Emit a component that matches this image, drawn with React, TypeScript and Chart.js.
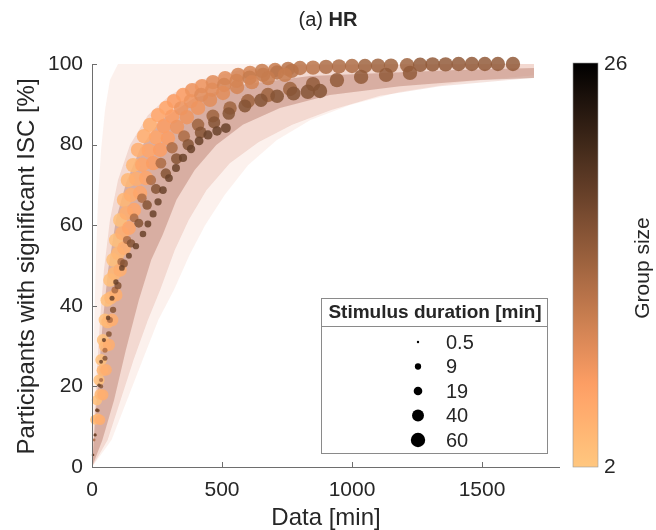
import React, { useEffect, useRef } from "react";
import { Chart, registerables } from "chart.js";

Chart.register(...registerables);

const FONT = "'Liberation Sans', Arial, Helvetica, sans-serif";
const TEXT = "#262626";
const AXIS = "#6e6e6e";

// ---- axes ----
const xRange = [0, 1800];
const yRange = [0, 100];
const xTicks = [0, 500, 1000, 1500];
const yTicks = [0, 20, 40, 60, 80, 100];
const groupRange = [2, 26];
const legendDurations = [0.5, 9, 19, 40, 60];

// ---- point series: [data (min), participants (%), group size, stimulus duration (min)] ----
type Pt = [number, number, number, number];

const seriesB: Pt[] = [
  [31, 11.7, 5, 30], [42, 17.9, 5, 34], [54, 24.1, 5, 38], [65, 30.3, 5, 42], [77, 36.5, 5, 46],
  [92, 42.7, 5, 50], [108, 48.9, 5, 52], [123, 54.3, 5, 54], [142, 59.3, 6, 56], [162, 63.8, 6, 58],
  [185, 68.0, 6, 60], [208, 71.7, 6, 60], [235, 75.4, 7, 60], [262, 78.7, 7, 60], [292, 81.6, 7, 60],
  [327, 84.4, 8, 60], [365, 86.8, 8, 60], [408, 89.1, 8, 60], [454, 91.1, 9, 60], [504, 92.8, 9, 60],
  [558, 94.3, 10, 60], [615, 95.5, 10, 60], [677, 96.5, 11, 60], [742, 97.3, 11, 60],
];

const seriesC2: Pt[] = [
  [22, 12, 4, 30], [31, 18, 4, 34], [40, 24, 4, 38], [50, 30, 4, 42], [60, 36, 4, 46],
  [72, 42, 4, 50], [86, 48, 4, 52], [100, 53, 4, 54], [116, 58, 5, 56], [132, 63, 5, 58],
  [150, 67.5, 5, 60], [170, 71.5, 5, 60], [193, 75, 6, 60], [218, 78.5, 6, 60], [246, 81.8, 6, 60],
  [276, 84.6, 7, 60], [308, 87, 7, 60], [343, 89, 8, 60], [380, 90.8, 8, 60], [420, 92.3, 9, 60],
  [462, 93.6, 9, 60], [508, 94.8, 10, 60], [556, 95.8, 10, 60], [606, 96.6, 11, 60], [658, 97.3, 11, 60],
  [712, 97.9, 12, 60], [768, 98.3, 12, 60],
];

const seriesC: Pt[] = [
  [12, 11.7, 3, 26], [19, 16.6, 3, 30], [27, 21.6, 3, 34], [35, 26.6, 3, 38], [42, 31.5, 3, 42],
  [50, 36.5, 3, 46], [58, 41.4, 3, 50], [69, 46.4, 3, 52], [81, 51.4, 3, 54], [92, 56.3, 3, 56],
  [108, 61.3, 3, 58], [123, 66.3, 4, 60], [138, 71.2, 4, 60], [158, 74.9, 4, 60], [177, 78.7, 5, 60],
  [200, 82.1, 5, 60], [223, 84.9, 5, 60], [254, 87.3, 6, 60], [285, 89.1, 6, 60], [315, 90.8, 7, 60],
  [350, 92.3, 7, 60], [385, 93.5, 8, 60], [423, 94.5, 8, 60], [465, 95.5, 9, 60], [512, 96.5, 9, 60],
  [562, 97.3, 10, 60], [608, 97.8, 10, 60], [654, 98.3, 11, 60], [704, 98.5, 11, 60], [754, 98.8, 12, 60],
  [800, 99.0, 12, 60], [850, 99.1, 12, 60], [900, 99.3, 13, 60], [950, 99.4, 13, 60], [1000, 99.5, 13, 60],
  [1050, 99.5, 14, 60], [1100, 99.6, 14, 60], [1150, 99.6, 14, 60], [1212, 99.7, 14, 60], [1262, 99.8, 15, 60],
  [1310, 99.9, 15, 60], [1360, 99.9, 15, 60], [1410, 100, 15, 60], [1461, 100, 15, 60], [1511, 100, 15, 60],
  [1561, 100, 15, 60], [1619, 100, 15, 60],
];

const seriesD: Pt[] = [
  [8, 6.7, 13, 1], [19, 14.1, 13, 2], [35, 21.6, 13, 3], [50, 29.0, 13, 5], [69, 36.5, 13, 8],
  [88, 43.9, 13, 11], [112, 50.9, 13, 14], [135, 56.3, 13, 17], [162, 61.8, 13, 20], [192, 66.7, 13, 24],
  [227, 71.2, 13, 28], [265, 75.4, 13, 32], [308, 79.2, 13, 36], [354, 82.1, 13, 40], [408, 84.9, 14, 44],
  [465, 87.1, 14, 48], [531, 89.1, 14, 52], [600, 90.8, 14, 56], [677, 92.3, 14, 60], [762, 93.8, 14, 60],
  [850, 95.0, 15, 60], [942, 96.0, 15, 60], [1035, 96.8, 15, 60], [1131, 97.3, 15, 60], [1223, 97.8, 15, 60],
];

const seriesE: Pt[] = [
  [4, 3, 16, 0.5], [12, 8, 16, 1], [23, 14, 16, 2], [35, 20, 16, 3], [50, 27, 16, 5],
  [65, 33, 16, 7], [81, 39, 16, 9], [100, 45, 16, 12], [123, 50.5, 16, 15], [150, 55.5, 16, 18],
  [180, 60.5, 16, 21], [212, 65, 16, 24], [246, 69, 16, 27], [284, 72.8, 16, 30], [325, 76.5, 16, 33],
  [370, 80, 16, 36], [418, 83, 16, 39], [470, 85.5, 16, 42], [526, 87.7, 16, 45], [588, 89.6, 16, 48],
  [650, 91, 16, 51], [712, 92, 16, 54], [775, 92.7, 16, 57], [830, 93.1, 16, 60], [877, 93.3, 16, 60],
];

const seriesF: Pt[] = [
  [4, 3.0, 18, 0.5], [12, 7.9, 18, 1], [19, 14.1, 18, 1.5], [27, 20.3, 18, 2], [35, 26.1, 18, 2.5],
  [46, 31.5, 18, 3], [62, 37.0, 18, 4], [77, 41.9, 18, 5], [92, 45.9, 18, 6], [115, 49.4, 18, 7],
  [142, 52.4, 18, 8], [169, 54.8, 18, 9], [196, 57.8, 18, 10], [215, 60.3, 18, 11], [235, 62.8, 18, 12],
  [254, 65.8, 18, 13], [273, 68.7, 18, 14], [296, 71.7, 18, 15], [323, 74.2, 18, 16], [350, 76.7, 18, 17],
  [381, 78.9, 18, 18], [412, 80.9, 18, 20], [446, 82.4, 18, 22], [481, 83.4, 18, 24], [515, 84.1, 18, 26],
];

// ---- shaded spread bands: [data (min), %] ----
const outerLeft = [[0, 0], [4, 16.6], [8, 34], [15, 51.4], [23, 66.3], [35, 78.7], [50, 88.6], [69, 96], [100, 100], [1700, 100]];
const outerRight = [[0, 0], [75, 6.7], [135, 16.6], [195, 26.6], [255, 36.5], [315, 43.9], [375, 52.6], [435, 60], [510, 67.5], [600, 74.9], [710, 81.1], [840, 86.1], [992, 89.8], [1185, 93.1], [1415, 95.5], [1700, 97.2]];
const midLeft = [[0, 0], [8, 11.7], [19, 24.1], [31, 36.5], [46, 48.9], [69, 61.3], [100, 71.2], [146, 79.9], [215, 87.3], [300, 92.3], [415, 96], [569, 98.5], [800, 99.8], [1700, 100]];
const midRight = [[0, 0], [60, 6.7], [110, 16.6], [160, 26.6], [215, 36.5], [262, 43.9], [318, 53.8], [372, 61.3], [440, 68.7], [530, 75.4], [640, 80.6], [770, 84.9], [920, 88.6], [1108, 92.1], [1338, 94.5], [1700, 96.6]];
const coreLeft = [[0, 0], [12, 11.7], [27, 24.1], [42, 36.5], [62, 48.9], [92, 61.3], [131, 70.5], [185, 79], [262, 86], [392, 91.5], [569, 94.8], [838, 97], [1400, 98.5], [1700, 99]];
const coreRight = [[0, 0], [40, 6.7], [85, 16.6], [130, 29], [180, 41.4], [228, 51.4], [272, 57.6], [325, 66.3], [395, 73.7], [478, 79.9], [580, 84.9], [723, 89.1], [915, 92.3], [1185, 94.5], [1492, 96], [1700, 96.5]];

// ---- styling helpers ----
function copper(g: number, a = 1) {
  const t = 1 - (g - groupRange[0]) / (groupRange[1] - groupRange[0]);
  const r = Math.round(Math.min(1, 1.25 * t) * 255);
  const gg = Math.round(0.7812 * t * 255);
  const b = Math.round(0.4975 * t * 255);
  return `rgba(${r},${gg},${b},${a})`;
}
function radiusFor(d: number) {
  return 0.85 * Math.sqrt(d) + 0.6;
}

function band(left: number[][], right: number[][], color: string) {
  const common = {
    type: "line" as const,
    borderColor: "rgba(0,0,0,0)",
    borderWidth: 0,
    pointRadius: 0,
    order: 2,
  };
  return [
    { ...common, data: left.map(([x, y]) => ({ x, y })), fill: "+1", backgroundColor: color },
    { ...common, data: right.map(([x, y]) => ({ x, y })), fill: false },
  ];
}

function points(series: Pt[]) {
  return {
    type: "scatter" as const,
    data: series.map(([x, y, g, d]) => ({ x, y, g, d })),
    pointRadius: (c: any) => (c.raw ? radiusFor(c.raw.d) : 3),
    pointBackgroundColor: (c: any) => (c.raw ? copper(c.raw.g, 0.85) : "#000"),
    pointBorderWidth: 0,
    pointBorderColor: "rgba(0,0,0,0)",
    clip: false as any,
    order: 0,
  };
}

const decorPlugin = {
  id: "decor",
  afterDatasetsDraw(chart: any) {
    const { ctx, chartArea: a, scales } = chart;
    const x = scales.x;
    const y = scales.y;
    ctx.save();
    ctx.strokeStyle = AXIS;
    ctx.lineWidth = 1;
    ctx.beginPath();
    ctx.moveTo(a.left + 0.5, a.top);
    ctx.lineTo(a.left + 0.5, a.bottom + 0.5);
    ctx.lineTo(a.right, a.bottom + 0.5);
    for (const v of yTicks) {
      const py = Math.round(y.getPixelForValue(v)) + 0.5;
      ctx.moveTo(a.left, py);
      ctx.lineTo(a.left + 5, py);
    }
    for (const v of xTicks) {
      const px = Math.round(x.getPixelForValue(v)) + 0.5;
      ctx.moveTo(px, a.bottom);
      ctx.lineTo(px, a.bottom - 5);
    }
    ctx.stroke();
    ctx.restore();
  },
  afterDraw(chart: any) {
    const { ctx, chartArea: a } = chart;
    ctx.save();
    ctx.fillStyle = TEXT;

    // title
    ctx.textBaseline = "middle";
    ctx.font = `20px ${FONT}`;
    const t1 = "(a) ";
    const w1 = ctx.measureText(t1).width;
    ctx.font = `bold 20px ${FONT}`;
    const t2 = "HR";
    const w2 = ctx.measureText(t2).width;
    const tx = 328 - (w1 + w2) / 2;
    ctx.textAlign = "left";
    ctx.font = `20px ${FONT}`;
    ctx.fillText(t1, tx, 20);
    ctx.font = `bold 20px ${FONT}`;
    ctx.fillText(t2, tx + w1, 20);

    // axis titles
    ctx.font = `24px ${FONT}`;
    ctx.textAlign = "center";
    ctx.textBaseline = "alphabetic";
    ctx.fillText("Data [min]", (a.left + a.right) / 2, 525);
    ctx.save();
    ctx.translate(27, (a.top + a.bottom) / 2 + 1);
    ctx.rotate(-Math.PI / 2);
    ctx.textBaseline = "middle";
    ctx.fillText("Participants with significant ISC [%]", 0, 0);
    ctx.restore();

    // legend
    const L = { x: 321, y: 298, w: 226, h: 155 };
    ctx.fillStyle = "#ffffff";
    ctx.fillRect(L.x, L.y, L.w, L.h);
    ctx.strokeStyle = "#8a8a8a";
    ctx.lineWidth = 1;
    ctx.strokeRect(L.x + 0.5, L.y + 0.5, L.w, L.h);
    ctx.beginPath();
    ctx.moveTo(L.x, L.y + 28.5);
    ctx.lineTo(L.x + L.w, L.y + 28.5);
    ctx.stroke();
    ctx.fillStyle = TEXT;
    ctx.font = `bold 19px ${FONT}`;
    ctx.textAlign = "center";
    ctx.textBaseline = "middle";
    ctx.fillText("Stimulus duration [min]", L.x + L.w / 2 + 1, L.y + 15);
    ctx.font = `20px ${FONT}`;
    ctx.textAlign = "left";
    legendDurations.forEach((d, i) => {
      const cy = L.y + 44 + i * 24.5;
      ctx.fillStyle = "#000";
      ctx.beginPath();
      ctx.arc(L.x + 97, cy, radiusFor(d), 0, Math.PI * 2);
      ctx.fill();
      ctx.fillStyle = TEXT;
      ctx.fillText(String(d), L.x + 125, cy + 1);
    });

    // colorbar
    const cb = { x: 573, y: a.top - 1, w: 25, h: a.bottom - a.top + 1 };
    const grad = ctx.createLinearGradient(0, cb.y, 0, cb.y + cb.h);
    const n = groupRange[1] - groupRange[0];
    for (let i = 0; i <= n; i++) {
      grad.addColorStop(i / n, copper(groupRange[1] - i));
    }
    ctx.fillStyle = grad;
    ctx.fillRect(cb.x, cb.y, cb.w, cb.h);
    ctx.strokeStyle = "#9a9a9a";
    ctx.lineWidth = 0.6;
    ctx.strokeRect(cb.x, cb.y, cb.w, cb.h);
    ctx.fillStyle = TEXT;
    ctx.font = `21px ${FONT}`;
    ctx.textAlign = "left";
    ctx.textBaseline = "middle";
    ctx.fillText(String(groupRange[1]), cb.x + 31, cb.y + 1);
    ctx.fillText(String(groupRange[0]), cb.x + 31, cb.y + cb.h);
    ctx.save();
    ctx.translate(643, 268);
    ctx.rotate(-Math.PI / 2);
    ctx.textAlign = "center";
    ctx.font = `21px ${FONT}`;
    ctx.fillText("Group size", 0, 0);
    ctx.restore();

    ctx.restore();
  },
};

export default function App() {
  const ref = useRef<HTMLCanvasElement | null>(null);
  useEffect(() => {
    if (!ref.current) return;
    const datasets: any[] = [
      points(seriesF),
      points(seriesE),
      points(seriesD),
      points(seriesB),
      points(seriesC2),
      points(seriesC),
      ...band(coreLeft, coreRight, "rgba(170,100,80,0.36)"),
      ...band(midLeft, midRight, "rgba(215,140,115,0.24)"),
      ...band(outerLeft, outerRight, "rgba(232,160,135,0.15)"),
    ];
    const chart = new Chart(ref.current, {
      type: "scatter",
      data: { datasets },
      options: {
        animation: false,
        responsive: false,
        events: [],
        layout: { padding: { top: 64, right: 96, left: 0, bottom: 0 } },
        plugins: {
          legend: { display: false },
          tooltip: { enabled: false },
          title: { display: false },
        },
        scales: {
          x: {
            type: "linear",
            min: xRange[0],
            max: xRange[1],
            afterFit: (s: any) => {
              s.height = 63;
            },
            afterBuildTicks: (s: any) => {
              s.ticks = xTicks.map((v) => ({ value: v }));
            },
            grid: { display: false, drawTicks: false },
            border: { display: false },
            ticks: {
              font: { family: FONT, size: 21 },
              color: TEXT,
              padding: 11,
              maxRotation: 0,
              autoSkip: false,
              callback: (v: any) => String(v),
            },
          },
          y: {
            type: "linear",
            min: yRange[0],
            max: yRange[1],
            afterFit: (s: any) => {
              s.width = 92;
            },
            afterBuildTicks: (s: any) => {
              s.ticks = yTicks.map((v) => ({ value: v }));
            },
            grid: { display: false, drawTicks: false },
            border: { display: false },
            ticks: {
              font: { family: FONT, size: 21 },
              color: TEXT,
              padding: 9,
              autoSkip: false,
              callback: (v: any) => String(v),
            },
          },
        },
      },
      plugins: [decorPlugin],
    } as any);
    return () => chart.destroy();
  }, []);
  return (
    <div style={{ position: "fixed", left: 0, top: 0, width: 656, height: 530, background: "#fff" }}>
      <canvas ref={ref} width={656} height={530} style={{ display: "block" }} />
    </div>
  );
}
